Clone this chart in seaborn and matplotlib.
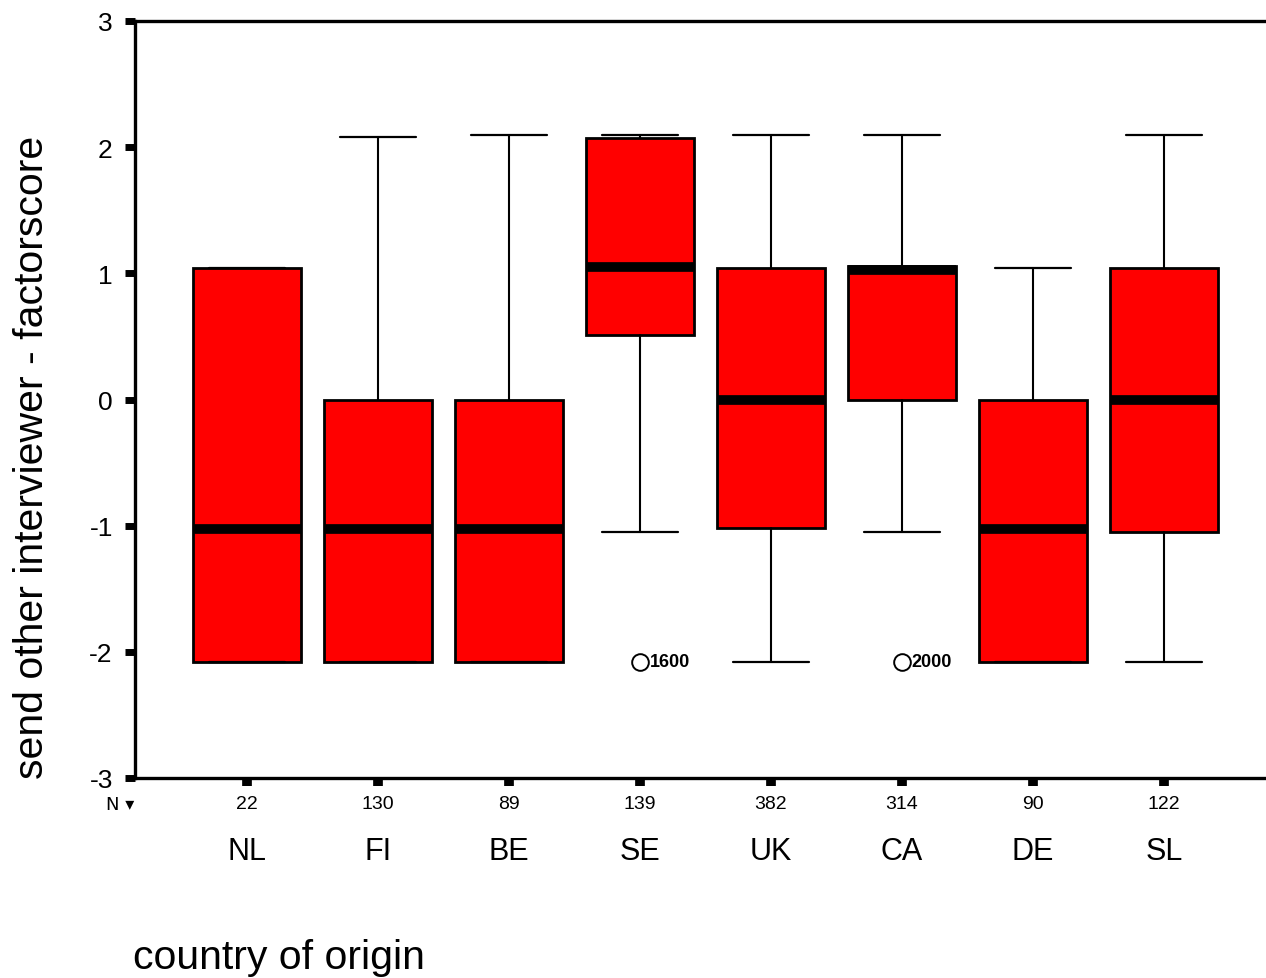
import matplotlib
matplotlib.use("Agg")
import matplotlib.pyplot as plt
import matplotlib.transforms as mtransforms
import seaborn as sns

# Factor score summary per country of origin
countries = ["NL", "FI", "BE", "SE", "UK", "CA", "DE", "SL"]
counts = [22, 130, 89, 139, 382, 314, 90, 122]
whisker_low = [-2.08, -2.08, -2.08, -1.05, -2.08, -1.05, -2.08, -2.08]
quartile_1 = [-2.08, -2.08, -2.08, 0.51, -1.02, 0.00, -2.08, -1.05]
medians = [-1.03, -1.03, -1.03, 1.05, 0.00, 1.03, -1.03, 0.00]
quartile_3 = [1.04, 0.00, 0.00, 2.07, 1.04, 1.06, 0.00, 1.04]
whisker_high = [1.04, 2.08, 2.10, 2.10, 2.10, 2.10, 1.04, 2.10]
outlier_values = {"SE": [-2.08], "CA": [-2.08]}
outlier_labels = {"SE": "1600", "CA": "2000"}

yticks = [-3, -2, -1, 0, 1, 2, 3]

sns.set_theme(style="white")
plt.rcParams["font.family"] = ["Liberation Sans", "DejaVu Sans"]
plt.rcParams.update({
    "text.color": "black",
    "axes.labelcolor": "black",
    "xtick.color": "black",
    "ytick.color": "black",
})

fig = plt.figure(figsize=(12.66, 9.79), dpi=100)
ax = fig.add_axes([135 / 1266, 1 - 779 / 979, 1 - 135 / 1266, (779 - 22) / 979])

stats = []
for i, c in enumerate(countries):
    stats.append({
        "whislo": whisker_low[i],
        "q1": quartile_1[i],
        "med": medians[i],
        "q3": quartile_3[i],
        "whishi": whisker_high[i],
        "fliers": outlier_values.get(c, []),
        "label": c,
    })

positions = list(range(len(countries)))
ax.bxp(
    stats,
    positions=positions,
    widths=0.825,
    capwidths=0.58,
    patch_artist=True,
    showfliers=True,
    boxprops=dict(facecolor="#ff0000", edgecolor="black", linewidth=2.0),
    medianprops=dict(color="black", linewidth=7.0, solid_capstyle="butt"),
    whiskerprops=dict(color="black", linewidth=1.5),
    capprops=dict(color="black", linewidth=1.6),
    flierprops=dict(marker="o", markersize=12, markerfacecolor="white",
                    markeredgecolor="black", markeredgewidth=1.4),
)

# outlier case labels
for i, c in enumerate(countries):
    if c in outlier_labels:
        for v in outlier_values[c]:
            ax.annotate(outlier_labels[c], (i, v), xytext=(7, 0),
                        textcoords="offset points", va="center", ha="left",
                        fontsize=13, fontweight="bold", color="black")

ax.set_xlim(-0.855, 7.78)
ax.set_ylim(-3, 3)
ax.set_yticks(yticks)
ax.set_yticklabels([str(t) for t in yticks], fontsize=19)
ax.set_xticks(positions)
ax.set_xticklabels([str(n) for n in counts], fontsize=14)
ax.tick_params(axis="y", direction="out", length=7, width=5, pad=9, left=True)
ax.tick_params(axis="x", direction="out", length=6, width=7, pad=6, bottom=True)

for side in ["top", "bottom", "left"]:
    ax.spines[side].set_visible(True)
    ax.spines[side].set_color("black")
    ax.spines[side].set_linewidth(2.4)
ax.spines["right"].set_visible(False)
ax.grid(False)

# country names under the counts
trans = mtransforms.blended_transform_factory(ax.transData, ax.transAxes)
for i, c in enumerate(countries):
    ax.text(i, -0.0964, c, transform=trans, ha="center", va="center", fontsize=22)

# "N" marker at the start of the count row
ax.text(-0.97, -0.0343, "N \u25be", transform=trans, ha="center", va="center",
        fontsize=13, family=["DejaVu Sans"], clip_on=False)

# axis titles
fig.text(32 / 1266, 1 - 457 / 979, "send other interviewer - factorscore",
         fontsize=29.5, rotation=90, ha="center", va="center")
fig.text(133 / 1266, 1 - 958 / 979, "country of origin", fontsize=29.5,
         ha="left", va="center")

fig.savefig("out.png", dpi=100, facecolor="white")
